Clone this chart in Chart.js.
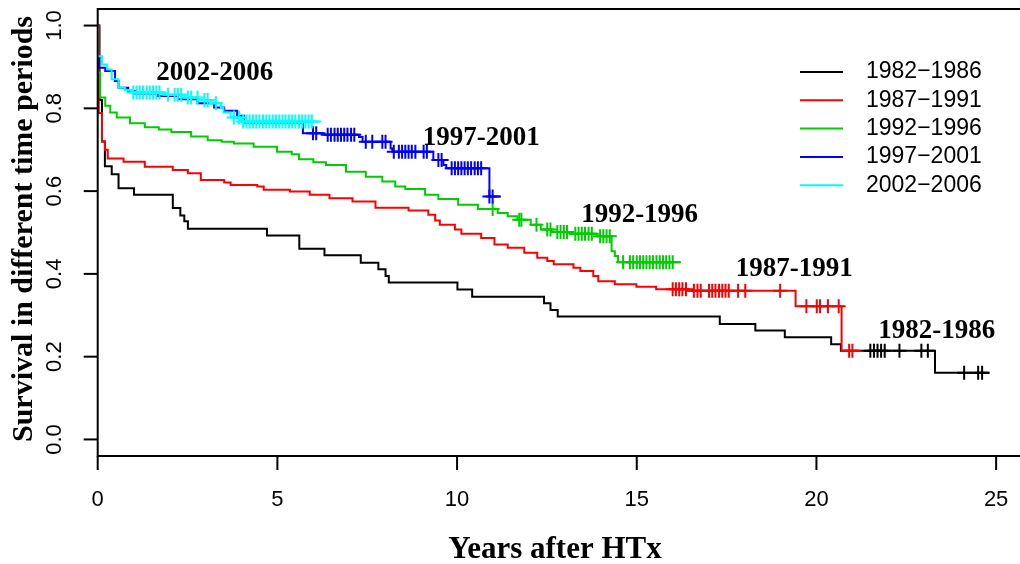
<!DOCTYPE html>
<html>
<head>
<meta charset="utf-8">
<script src="https://cdn.jsdelivr.net/npm/chart.js@4.4.0/dist/chart.umd.min.js"></script>
<style>
  body { margin: 0; background: #fff; }
  #wrap { width: 1020px; height: 564px; }
</style>
</head>
<body>
<div id="wrap"><canvas id="kmChart" width="1020" height="564"></canvas></div>
<script>
// Kaplan-Meier survival by transplant era
const periods = ["1982−1986", "1987−1991", "1992−1996", "1997−2001", "2002−2006"];
const colors = ["#000000", "#ff0000", "#00cd00", "#0000ff", "#00ffff"];

const t8286 = [0, 0.05, 0.12, 0.2, 0.39, 0.58, 1.01, 2.09, 2.30, 2.41, 2.51, 4.71, 5.61, 6.31, 7.32, 7.81, 8.01, 8.10, 10.01, 10.42, 12.42, 12.60, 12.80, 17.31, 18.30, 19.12, 20.41, 20.68, 23.30, 24.82];
const s8286 = [1, 0.82, 0.72, 0.66, 0.641, 0.607, 0.591, 0.559, 0.541, 0.527, 0.509, 0.493, 0.461, 0.445, 0.427, 0.411, 0.395, 0.379, 0.362, 0.345, 0.329, 0.313, 0.297, 0.279, 0.263, 0.247, 0.230, 0.214, 0.161, 0.161];
const c8286 = [21.5, 21.6, 21.7, 21.8, 21.9, 22.31, 22.92, 23.1, 24.11, 24.5, 24.61];

const t8791 = [0, 0.03, 0.12, 0.2, 0.28, 0.72, 1.31, 2.09, 2.51, 2.87, 3.52, 3.70, 4.44, 4.62, 5.35, 5.90, 6.45, 7.09, 7.73, 8.65, 9.20, 9.39, 9.52, 9.94, 10.12, 10.67, 11.04, 11.41, 11.87, 12.23, 12.51, 12.69, 13.24, 13.43, 13.79, 13.93, 14.39, 14.99, 15.54, 16.45, 19.42, 20.70, 21.24];
const s8791 = [1, 0.789, 0.72, 0.70, 0.679, 0.671, 0.659, 0.651, 0.643, 0.627, 0.621, 0.615, 0.611, 0.603, 0.599, 0.591, 0.583, 0.575, 0.560, 0.553, 0.543, 0.529, 0.519, 0.507, 0.497, 0.487, 0.471, 0.463, 0.451, 0.439, 0.431, 0.423, 0.415, 0.407, 0.395, 0.382, 0.375, 0.369, 0.363, 0.359, 0.322, 0.214, 0.214];
const c8791 = [16.0, 16.09, 16.18, 16.27, 16.37, 16.59, 16.69, 16.78, 17.01, 17.10, 17.19, 17.29, 17.38, 17.47, 17.56, 17.82, 18.02, 18.99, 19.72, 20.01, 20.10, 20.32, 20.62, 20.91, 21.0];

const t9296 = [0, 0.01, 0.07, 0.21, 0.35, 0.53, 0.90, 1.31, 1.70, 2.05, 2.60, 3.06, 3.45, 3.79, 4.34, 4.99, 5.40, 5.60, 6.00, 6.35, 6.91, 7.46, 7.92, 8.28, 8.56, 9.11, 9.48, 10.03, 10.58, 11.13, 11.41, 11.68, 12.05, 12.33, 12.62, 13.15, 13.89, 14.30, 14.39, 14.48, 16.23];
const s9296 = [1, 0.886, 0.826, 0.806, 0.790, 0.778, 0.764, 0.754, 0.749, 0.743, 0.732, 0.723, 0.719, 0.715, 0.707, 0.695, 0.689, 0.677, 0.670, 0.663, 0.647, 0.635, 0.623, 0.611, 0.605, 0.591, 0.581, 0.567, 0.557, 0.547, 0.539, 0.531, 0.519, 0.507, 0.501, 0.497, 0.491, 0.455, 0.443, 0.428, 0.428];
const c9296 = [10.99, 11.73, 11.79, 12.21, 12.51, 12.60, 12.79, 12.88, 12.97, 13.06, 13.29, 13.38, 13.47, 13.56, 13.66, 13.75, 13.98, 14.07, 14.16, 14.25, 14.62, 14.81, 14.90, 15.0, 15.09, 15.18, 15.27, 15.36, 15.45, 15.55, 15.64, 15.73, 15.82, 15.91, 16.0];

const t9701 = [0, 0.01, 0.03, 0.21, 0.48, 0.58, 0.85, 1.04, 1.68, 2.23, 2.78, 3.24, 3.52, 3.88, 4.07, 5.71, 6.31, 7.27, 7.37, 8.15, 8.20, 9.34, 9.62, 9.70, 10.90, 11.22];
const s9701 = [1, 0.926, 0.898, 0.890, 0.866, 0.850, 0.842, 0.836, 0.830, 0.822, 0.812, 0.802, 0.794, 0.782, 0.766, 0.740, 0.736, 0.731, 0.719, 0.703, 0.695, 0.675, 0.663, 0.655, 0.587, 0.587];
const c9701 = [5.99, 6.08, 6.40, 6.49, 6.59, 6.68, 6.77, 6.86, 6.95, 7.05, 7.14, 7.46, 7.64, 7.92, 8.01, 8.24, 8.38, 8.47, 8.56, 8.65, 8.74, 8.84, 9.07, 9.16, 9.48, 9.57, 9.85, 9.94, 10.03, 10.12, 10.21, 10.30, 10.39, 10.49, 10.58, 10.67, 10.90, 10.99];

const t0206 = [0, 0.01, 0.12, 0.26, 0.39, 0.58, 0.76, 0.95, 1.86, 2.41, 2.83, 3.15, 3.43, 3.50, 3.70, 3.98, 6.22];
const s0206 = [1, 0.926, 0.906, 0.894, 0.870, 0.850, 0.844, 0.838, 0.833, 0.826, 0.820, 0.812, 0.802, 0.790, 0.778, 0.768, 0.768];
const c0206 = [0.99, 1.08, 1.17, 1.26, 1.36, 1.45, 1.54, 1.63, 1.72, 1.96, 2.14, 2.23, 2.32, 2.51, 2.60, 2.78, 2.97, 3.06, 3.29, 3.79, 3.93, 4.05, 4.14, 4.23, 4.32, 4.41, 4.50, 4.60, 4.69, 4.78, 4.87, 4.96, 5.05, 5.14, 5.23, 5.32, 5.41, 5.50, 5.60, 5.69, 5.78, 5.87, 5.96];

const xTicks = [0, 5, 10, 15, 20, 25];
const yTicks = [0.0, 0.2, 0.4, 0.6, 0.8, 1.0];

// text labels next to the curves, in data units
const labelText = ["2002-2006", "1997-2001", "1992-1996", "1987-1991", "1982-1986"];
const labelX = [3.26, 10.67, 15.08, 19.38, 23.35];
const labelY = [0.886, 0.728, 0.541, 0.412, 0.263];

const times = [t8286, t8791, t9296, t9701, t0206];
const survs = [s8286, s8791, s9296, s9701, s0206];
const cens = [c8286, c8791, c9296, c9701, c0206];

// survival value of a step curve at time t
function stepAt(t, s, when) {
    let v = s[0];
    for (let i = 0; i < t.length; i++) {
        if (t[i] <= when) v = s[i];
    }
    return v;
}

let datasets = [];
periods.forEach((p, i) => {
    datasets.push({
        label: p,
        data: times[i].map((t, k) => ({ x: t, y: survs[i][k] })),
        borderColor: colors[i],
        borderWidth: 2,
        stepped: 'before',
        pointRadius: 0,
        fill: false,
        order: 20 - 2 * i
    });
    datasets.push({
        label: p + " censored",
        type: 'scatter',
        data: cens[i].map(c => ({ x: c, y: stepAt(times[i], survs[i], c) })),
        borderColor: colors[i],
        backgroundColor: colors[i],
        pointStyle: 'cross',
        pointRadius: 7,
        pointBorderWidth: 2,
        showLine: false,
        order: 19 - 2 * i
    });
});

const rAxes = {
    id: 'rAxes',
    afterDraw(chart) {
        const ctx = chart.ctx;
        const a = chart.chartArea;
        const x = chart.scales.x, y = chart.scales.y;
        const W = chart.width;
        ctx.save();
        ctx.strokeStyle = "#000";
        ctx.lineWidth = 2;
        ctx.beginPath();
        ctx.moveTo(W, a.top);
        ctx.lineTo(a.left, a.top);
        ctx.lineTo(a.left, a.bottom);
        ctx.lineTo(W, a.bottom);
        ctx.stroke();

        ctx.fillStyle = "#000";
        ctx.font = '22px "Liberation Sans", Arial, sans-serif';
        // x ticks
        xTicks.forEach(v => {
            const px = x.getPixelForValue(v);
            ctx.beginPath();
            ctx.moveTo(px, a.bottom);
            ctx.lineTo(px, a.bottom + 14);
            ctx.stroke();
            ctx.textAlign = 'center';
            ctx.textBaseline = 'middle';
            ctx.fillText(String(v), px, 500);
        });
        // y ticks, labels parallel to the axis
        yTicks.forEach(v => {
            const py = y.getPixelForValue(v);
            ctx.beginPath();
            ctx.moveTo(a.left - 14, py);
            ctx.lineTo(a.left, py);
            ctx.stroke();
            ctx.save();
            ctx.translate(55, py);
            ctx.rotate(-Math.PI / 2);
            ctx.textAlign = 'center';
            ctx.textBaseline = 'middle';
            ctx.fillText(v.toFixed(1), 0, 0);
            ctx.restore();
        });

        // axis titles
        ctx.textAlign = 'center';
        ctx.textBaseline = 'alphabetic';
        ctx.font = 'bold 31px "Liberation Serif", "Times New Roman", serif';
        ctx.fillText("Years after HTx", 555, 558);
        ctx.font = 'bold 30px "Liberation Serif", "Times New Roman", serif';
        ctx.save();
        ctx.translate(32, 229);
        ctx.rotate(-Math.PI / 2);
        ctx.fillText("Survival in different time periods", 0, 0);
        ctx.restore();

        // curve labels
        ctx.font = 'bold 27px "Liberation Serif", "Times New Roman", serif';
        ctx.textBaseline = 'middle';
        labelText.forEach((txt, i) => {
            ctx.fillText(txt, x.getPixelForValue(labelX[i]), y.getPixelForValue(labelY[i]));
        });

        // legend (no box)
        ctx.font = '23px "Liberation Sans", Arial, sans-serif';
        ctx.textAlign = 'left';
        periods.forEach((p, i) => {
            const ly = 72 + i * 28.3;
            ctx.strokeStyle = colors[i];
            ctx.beginPath();
            ctx.moveTo(800, ly);
            ctx.lineTo(843, ly);
            ctx.stroke();
            ctx.fillStyle = "#000";
            ctx.fillText(p, 866, ly);
        });
        ctx.restore();
    }
};

new Chart(document.getElementById('kmChart').getContext('2d'), {
    type: 'line',
    data: { datasets: datasets },
    options: {
        responsive: false,
        animation: false,
        devicePixelRatio: 1,
        layout: { padding: { left: 97.7, top: 5, right: 0, bottom: 108 } },
        plugins: { legend: { display: false }, tooltip: { enabled: false } },
        scales: {
            x: { type: 'linear', min: 0, max: 25.414, display: false },
            y: { type: 'linear', min: -0.04, max: 1.04, display: false }
        }
    },
    plugins: [rAxes]
});
</script>
</body>
</html>
